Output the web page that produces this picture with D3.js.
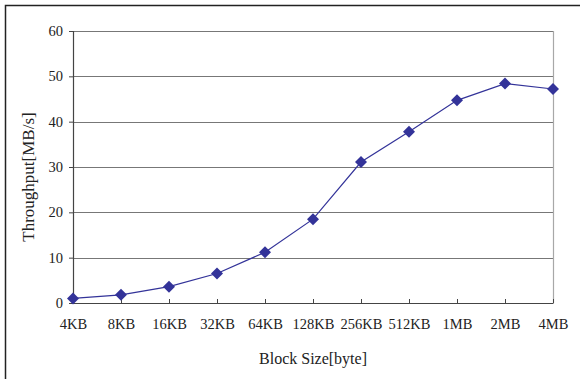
<!DOCTYPE html>
<html>
<head>
<meta charset="utf-8">
<script src="https://cdn.jsdelivr.net/npm/d3@7"></script>
<style>
  html, body { margin: 0; padding: 0; background: #fff; }
  svg text { font-family: "Liberation Serif", "Times New Roman", serif; fill: #222; }
</style>
</head>
<body>
<svg id="chart" width="580" height="379"></svg>
<script>
// Données
const blockSizes = ['4KB', '8KB', '16KB', '32KB', '64KB', '128KB', '256KB', '512KB', '1MB', '2MB', '4MB']
const throughput = [1.0, 1.8, 3.6, 6.5, 11.2, 18.5, 31.1, 37.8, 44.7, 48.4, 47.2]
const yTicks     = [0, 10, 20, 30, 40, 50, 60]

const W = 580, H = 379
const m = { left: 73, right: 27, top: 31, bottom: 76 }

const svg = d3.select('#chart')

// Cadre extérieur (haut + gauche visibles)
svg.append('path')
  .attr('d', `M5.5,${H + 5} V5.5 H${W + 5}`)
  .attr('fill', 'none').attr('stroke', '#222').attr('stroke-width', 1.5)

const x = d3.scalePoint().domain(blockSizes).range([m.left, W - m.right])
const y = d3.scaleLinear().domain([0, 60]).range([H - m.bottom, m.top])

// Grille horizontale
svg.append('g').selectAll('line')
  .data(yTicks.slice(1)).join('line')
  .attr('x1', m.left).attr('x2', W - m.right)
  .attr('y1', d => Math.round(y(d)) + 0.5).attr('y2', d => Math.round(y(d)) + 0.5)
  .attr('stroke', '#777').attr('stroke-width', 1.1)

// Bord droit de la zone de tracé
svg.append('line')
  .attr('x1', W - m.right + 0.5).attr('x2', W - m.right + 0.5)
  .attr('y1', m.top).attr('y2', H - m.bottom)
  .attr('stroke', '#a8a8a8').attr('stroke-width', 1.2)

// Axe Y
const yAxis = svg.append('g')
  .attr('transform', `translate(${m.left},0)`)
  .call(d3.axisLeft(y).tickValues(yTicks).tickSize(4).tickPadding(6))
yAxis.select('.domain').attr('stroke', '#444').attr('stroke-width', 1.2)
yAxis.selectAll('.tick line').attr('stroke', '#444')
yAxis.selectAll('text').attr('font-size', 14.5)

// Axe X (graduations vers l'intérieur)
const xAxis = svg.append('g')
  .attr('transform', `translate(0,${H - m.bottom})`)
  .call(d3.axisBottom(x).tickSizeInner(-4).tickSizeOuter(0).tickPadding(16))
xAxis.select('.domain').attr('stroke', '#444').attr('stroke-width', 1.2)
xAxis.selectAll('.tick line').attr('stroke', '#444')
xAxis.selectAll('text').attr('font-size', 14.5)

// Titres des axes
svg.append('text')
  .attr('x', 313).attr('y', 364)
  .attr('text-anchor', 'middle').attr('font-size', 16)
  .text('Block Size[byte]')

svg.append('text')
  .attr('transform', 'translate(34,177) rotate(-90)')
  .attr('text-anchor', 'middle').attr('font-size', 17)
  .text('Throughput[MB/s]')

// Courbe
const line = d3.line()
  .x((d, i) => x(blockSizes[i]))
  .y(d => y(d))

svg.append('path')
  .datum(throughput)
  .attr('d', line)
  .attr('fill', 'none').attr('stroke', '#333399').attr('stroke-width', 1.2)

// Marqueurs losange
svg.append('g').selectAll('path')
  .data(throughput).join('path')
  .attr('transform', (d, i) => `translate(${x(blockSizes[i])},${y(d)})`)
  .attr('d', 'M0,-6 L6,0 L0,6 L-6,0 Z')
  .attr('fill', '#333399')
</script>
</body>
</html>
